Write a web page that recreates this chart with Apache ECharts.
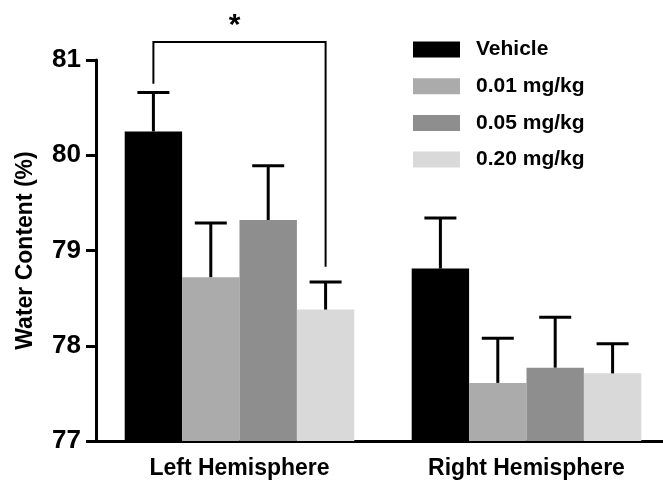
<!DOCTYPE html>
<html>
<head>
<meta charset="utf-8">
<script src="https://cdn.jsdelivr.net/npm/echarts@6/dist/echarts.min.js"></script>
<style>html,body{margin:0;padding:0;background:#fff}#c{width:663px;height:482px}</style>
</head>
<body>
<div id="c"></div>
<script>
var categories = ['Left Hemisphere', 'Right Hemisphere'];
var seriesNames = ['Vehicle', '0.01 mg/kg', '0.05 mg/kg', '0.20 mg/kg'];
var vehicle = [80.25, 78.81];
var dose001 = [78.72, 77.61];
var dose005 = [79.32, 77.77];
var dose020 = [78.38, 77.71];
var vehicleErr = [80.66, 79.34];
var dose001Err = [79.29, 78.08];
var dose005Err = [79.89, 78.30];
var dose020Err = [78.67, 78.02];
var yTicks = [77, 78, 79, 80, 81];
var colors = ['#000000', '#ababab', '#8e8e8e', '#d9d9d9'];

var means = [vehicle, dose001, dose005, dose020];
var errs = [vehicleErr, dose001Err, dose005Err, dose020Err];
var FONT = '"Liberation Sans", Arial, sans-serif';

var chart = echarts.init(document.getElementById('c'));
var series = [];
means.forEach(function (m, i) {
  series.push({
    name: seriesNames[i], type: 'bar', data: m, barGap: '0%', barCategoryGap: '20%',
    itemStyle: { color: colors[i] }, z: 2
  });
});
// error bars
errs.forEach(function (e, i) {
  series.push({
    type: 'custom', z: 3, silent: true,
    data: e.map(function (hi, c) { return [c, means[i][c], hi]; }),
    encode: { x: 0, y: [1, 2] },
    renderItem: function (params, api) {
      var c = api.value(0);
      var band = api.size([1, 0])[0];
      var bw = band * 0.8 / 4;
      var off = (i - 1.5) * bw;
      var p0 = api.coord([c, api.value(1)]);
      var p1 = api.coord([c, api.value(2)]);
      var x = p0[0] + off;
      var st = { stroke: '#000', lineWidth: 3 };
      return { type: 'group', children: [
        { type: 'line', shape: { x1: x, y1: p0[1], x2: x, y2: p1[1] }, style: st },
        { type: 'line', shape: { x1: x - 16, y1: p1[1], x2: x + 16, y2: p1[1] }, style: st }
      ]};
    }
  });
});
// significance bracket
series.push({
  type: 'custom', z: 4, silent: true, clip: false,
  data: [[0, 80.75, 78.83, 81.19]],
  encode: { x: 0, y: [1, 2, 3] },
  renderItem: function (params, api) {
    var c = api.value(0);
    var band = api.size([1, 0])[0];
    var bw = band * 0.8 / 4;
    var xl = api.coord([c, 0])[0] - 1.5 * bw;
    var xr = api.coord([c, 0])[0] + 1.5 * bw;
    var yl = api.coord([c, api.value(1)])[1];
    var yr = api.coord([c, api.value(2)])[1];
    var yt = api.coord([c, api.value(3)])[1];
    return { type: 'group', children: [
      { type: 'polyline', shape: { points: [[xl, yl], [xl, yt], [xr, yt], [xr, yr]] },
        style: { stroke: '#000', lineWidth: 2, fill: null } },
      { type: 'text', x: (xl + xr) / 2 - 5, y: yt - 16,
        style: { text: '*', font: 'bold 30px ' + FONT, fill: '#000', align: 'center', verticalAlign: 'middle' } }
    ]};
  }
});

chart.setOption({
  animation: false,
  backgroundColor: '#fff',
  color: colors,
  grid: { left: 96, top: 60, width: 574, height: 381, outerBoundsMode: 'none', containLabel: false },
  legend: {
    data: seriesNames, orient: 'vertical', left: 408, top: 34,
    itemWidth: 47, itemHeight: 16, itemGap: 15.7, icon: 'rect',
    textStyle: { fontFamily: FONT, fontWeight: 'bold', fontSize: 21, color: '#000', padding: [0, 0, 0, 11] }
  },
  xAxis: {
    type: 'category', data: categories,
    axisLine: { lineStyle: { color: '#000', width: 3 } },
    axisTick: { alignWithLabel: true, length: 10, lineStyle: { width: 3, color: '#000' } },
    axisLabel: { fontFamily: FONT, fontWeight: 'bold', fontSize: 23, color: '#000', margin: 16 }
  },
  yAxis: {
    type: 'value', min: yTicks[0], max: yTicks[yTicks.length - 1], interval: 1,
    name: 'Water Content (%)', nameLocation: 'middle', nameGap: 59, nameRotate: 90,
    nameTextStyle: { fontFamily: FONT, fontWeight: 'bold', fontSize: 23, color: '#000' },
    splitLine: { show: false },
    axisLine: { show: true, lineStyle: { color: '#000', width: 3 } },
    axisTick: { show: true, length: 10, lineStyle: { width: 3, color: '#000' } },
    axisLabel: { fontFamily: FONT, fontWeight: 'bold', fontSize: 26, color: '#000', margin: 15 }
  },
  series: series
});
</script>
</body>
</html>
